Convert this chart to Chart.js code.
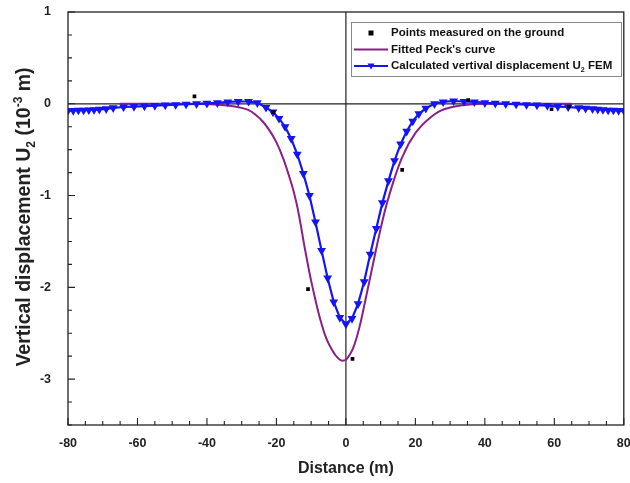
<!DOCTYPE html>
<html>
<head>
<meta charset="utf-8">
<script src="https://cdn.jsdelivr.net/npm/chart.js@4.4.1/dist/chart.umd.min.js"></script>
<style>
  body { margin: 0; background: #fff; }
</style>
</head>
<body>
<canvas id="chart" width="630" height="483"></canvas>
<script>
// --- Data ---
const groundX = [-43.6, -20.9, -10.9, 1.9, 16.2, 35.2, 59.2, 64.2];
const groundY = [0.08, -0.09, -2.02, -2.78, -0.72, 0.04, -0.06, -0.03];

const peckX = [-65, -55, -45, -40, -35, -32, -30, -28, -26, -24, -22, -20, -18, -16, -15, -14, -13, -12, -11, -10,
  -9, -8, -7, -6, -5, -4, -3, -2, -1, 0, 1, 2, 3, 4, 5, 6, 7, 8, 9, 10,
  11, 12, 13, 14, 15, 16, 17, 18, 19, 20, 22, 24, 27, 30, 35, 40, 45, 55, 65];
const peckY = [0, 0, 0, -0.005, -0.015, -0.03, -0.045, -0.07, -0.12, -0.19, -0.29, -0.42, -0.6, -0.83, -0.96, -1.12, -1.32, -1.54, -1.74, -1.93,
  -2.1, -2.26, -2.4, -2.52, -2.61, -2.68, -2.74, -2.78, -2.8, -2.79, -2.74, -2.67, -2.56, -2.42, -2.25, -2.07, -1.89, -1.71, -1.53, -1.36,
  -1.2, -1.06, -0.93, -0.81, -0.7, -0.6, -0.52, -0.44, -0.38, -0.32, -0.23, -0.16, -0.08, -0.04, -0.01, 0, 0, 0, 0];

const femX = [-80, -78.5, -77, -75.5, -74, -72.5, -71, -69, -67, -64, -61, -58, -55, -52, -49, -46, -43, -40, -37, -34,
  -31, -28, -25.5, -23, -21, -19.25, -17.5, -15.75, -14, -12.25, -10.5, -8.75, -7, -5.25, -3.5, -1.75, 0,
  1.75, 3.5, 5.25, 7, 8.75, 10.5, 12.25, 14, 15.75, 17.5, 19.25, 21, 23, 25.5, 28, 31, 34, 37, 40,
  43, 46, 49, 52, 55, 58, 61, 64, 67, 69, 71, 72.5, 74, 75.5, 77, 78.5, 80];
const femY = [-0.075, -0.075, -0.07, -0.07, -0.068, -0.065, -0.06, -0.055, -0.045, -0.035, -0.03, -0.025, -0.02, -0.015, -0.01, -0.005, 0, 0.005, 0.01, 0.02,
  0.025, 0.025, 0.01, -0.04, -0.09, -0.16, -0.25, -0.38, -0.55, -0.76, -1.0, -1.29, -1.6, -1.9, -2.16, -2.33, -2.4,
  -2.34, -2.18, -1.94, -1.64, -1.36, -1.08, -0.84, -0.62, -0.44, -0.3, -0.19, -0.11, -0.05, 0, 0.02, 0.03, 0.025, 0.02, 0.01,
  0.005, 0, -0.005, -0.01, -0.015, -0.02, -0.03, -0.035, -0.045, -0.05, -0.055, -0.06, -0.065, -0.07, -0.07, -0.075, -0.075];

const xTicks = [-80, -60, -40, -20, 0, 20, 40, 60, 80];
const yTicks = [1, 0, -1, -2, -3];

const BLUE = "#1414f5";
const PURPLE = "#8a1f86";
const FONT = "'Liberation Sans', Arial, sans-serif";

const pts = (xs, ys) => xs.map((x, i) => ({ x, y: ys[i] }));

// draws text with a sub/superscript piece, left to right from x
function richText(ctx, parts, x, y, size) {
  parts.forEach(p => {
    const s = p.small ? size * 0.62 : size;
    ctx.font = `bold ${s}px ${FONT}`;
    ctx.fillText(p.t, x, y + (p.dy || 0));
    x += ctx.measureText(p.t).width;
  });
}
function richWidth(ctx, parts, size) {
  let w = 0;
  parts.forEach(p => {
    ctx.font = `bold ${p.small ? size * 0.62 : size}px ${FONT}`;
    w += ctx.measureText(p.t).width;
  });
  return w;
}

// --- Frame, inward ticks, zero lines, titles, legend ---
const decor = {
  id: "decor",
  beforeDatasetsDraw(chart) {
    const { ctx, chartArea: a, scales: { x, y } } = chart;
    ctx.save();
    ctx.strokeStyle = "#222";
    ctx.lineWidth = 1.2;
    ctx.beginPath();
    ctx.moveTo(a.left, y.getPixelForValue(0));
    ctx.lineTo(a.right, y.getPixelForValue(0));
    ctx.moveTo(x.getPixelForValue(0), a.top);
    ctx.lineTo(x.getPixelForValue(0), a.bottom);
    ctx.stroke();
    ctx.restore();
  },
  afterDraw(chart) {
    const { ctx, chartArea: a, scales: { x, y } } = chart;
    ctx.save();
    ctx.strokeStyle = "#222";
    ctx.lineWidth = 1.3;
    ctx.strokeRect(a.left, a.top, a.right - a.left, a.bottom - a.top);

    ctx.lineWidth = 1.1;
    ctx.beginPath();
    for (let v = -80; v <= 80; v += 5) {
      const px = x.getPixelForValue(v);
      const len = v % 20 === 0 ? 7 : 4;
      ctx.moveTo(px, a.bottom);
      ctx.lineTo(px, a.bottom - len);
    }
    for (let v = -3.5; v <= 1; v += 0.25) {
      const py = y.getPixelForValue(v);
      const len = Number.isInteger(v) ? 7 : 4;
      ctx.moveTo(a.left, py);
      ctx.lineTo(a.left + len, py);
    }
    ctx.stroke();

    ctx.fillStyle = "#222";
    ctx.textBaseline = "alphabetic";
    // x title
    ctx.font = `bold 16px ${FONT}`;
    ctx.textAlign = "center";
    ctx.fillText("Distance (m)", x.getPixelForValue(0), 473);

    // y title, rotated
    ctx.textAlign = "left";
    const yParts = [
      { t: "Vertical displacement U" },
      { t: "2", small: true, dy: 5 },
      { t: " (10" },
      { t: "-3", small: true, dy: -8 },
      { t: " m)" }
    ];
    const ySize = 19.5;
    const yw = richWidth(ctx, yParts, ySize);
    ctx.save();
    ctx.translate(30, 217);
    ctx.rotate(-Math.PI / 2);
    richText(ctx, yParts, -yw / 2, 0, ySize);
    ctx.restore();

    // legend
    const lx = 351, ly = 22, lw = 270, lh = 54;
    ctx.fillStyle = "#fff";
    ctx.fillRect(lx, ly, lw, lh);
    ctx.strokeStyle = "#888";
    ctx.lineWidth = 1;
    ctx.strokeRect(lx + 0.5, ly + 0.5, lw, lh);
    const rows = [33, 49.5, 66];
    const s0 = 354, s1 = 388, tx = 391;
    ctx.fillStyle = "#000";
    ctx.fillRect((s0 + s1) / 2 - 2.5, rows[0] - 2.5, 5, 5);
    ctx.lineWidth = 2;
    ctx.strokeStyle = PURPLE;
    ctx.beginPath(); ctx.moveTo(s0, rows[1]); ctx.lineTo(s1, rows[1]); ctx.stroke();
    ctx.strokeStyle = BLUE;
    ctx.beginPath(); ctx.moveTo(s0, rows[2]); ctx.lineTo(s1, rows[2]); ctx.stroke();
    const cx = (s0 + s1) / 2;
    ctx.fillStyle = BLUE;
    ctx.beginPath();
    ctx.moveTo(cx - 3.5, rows[2] - 2.5); ctx.lineTo(cx + 3.5, rows[2] - 2.5); ctx.lineTo(cx, rows[2] + 3.5);
    ctx.closePath(); ctx.fill();

    ctx.fillStyle = "#111";
    ctx.textBaseline = "middle";
    ctx.font = `bold 11.5px ${FONT}`;
    ctx.fillText("Points measured on the ground", tx, rows[0]);
    ctx.fillText("Fitted Peck's curve", tx, rows[1]);
    richText(ctx, [
      { t: "Calculated vertival displacement U" },
      { t: "2", small: true, dy: 4 },
      { t: " FEM" }
    ], tx, rows[2], 11.5);
    ctx.restore();
  }
};

const tickFont = { family: FONT, size: 12.5, weight: "bold" };

new Chart(document.getElementById("chart"), {
  type: "scatter",
  data: {
    datasets: [
      {
        label: "Points measured on the ground",
        data: pts(groundX, groundY),
        pointStyle: "rect",
        pointRadius: 2.6,
        backgroundColor: "#000",
        borderColor: "#000",
        borderWidth: 0,
        order: 0
      },
      {
        label: "Calculated vertival displacement U2 FEM",
        data: pts(femX, femY),
        showLine: true,
        borderColor: BLUE,
        backgroundColor: BLUE,
        borderWidth: 2.2,
        pointStyle: "triangle",
        rotation: 180,
        pointRadius: 2.9,
        order: 1
      },
      {
        label: "Fitted Peck's curve",
        data: pts(peckX, peckY),
        showLine: true,
        borderColor: PURPLE,
        borderWidth: 2,
        pointRadius: 0,
        cubicInterpolationMode: "monotone",
        order: 2
      }
    ]
  },
  options: {
    responsive: false,
    animation: false,
    layout: { padding: { top: 12, right: 6, left: 0, bottom: 0 } },
    plugins: { legend: { display: false }, tooltip: { enabled: false } },
    scales: {
      x: {
        type: "linear",
        min: -80, max: 80,
        afterFit: s => { s.height = 58; s.paddingLeft = 0; s.paddingRight = 0; },
        afterBuildTicks: s => { s.ticks = xTicks.map(v => ({ value: v })); },
        ticks: { font: tickFont, color: "#222", padding: 3 },
        grid: { display: false },
        border: { display: false }
      },
      y: {
        min: -3.5, max: 1,
        afterFit: s => { s.width = 68; s.paddingTop = 0; s.paddingBottom = 0; },
        afterBuildTicks: s => { s.ticks = yTicks.map(v => ({ value: v })); },
        ticks: { font: tickFont, color: "#222", padding: 9 },
        grid: { display: false },
        border: { display: false }
      }
    }
  },
  plugins: [decor]
});
</script>
</body>
</html>
